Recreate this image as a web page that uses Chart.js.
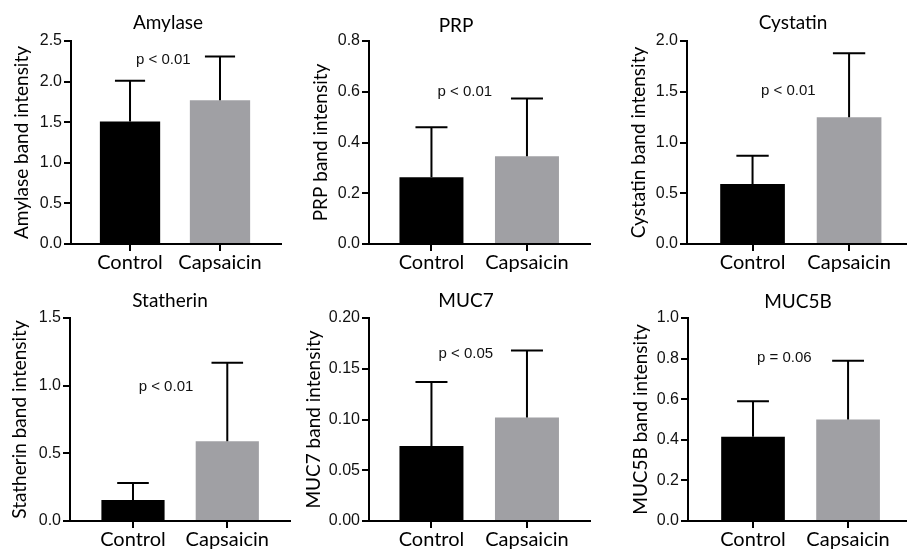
<!DOCTYPE html>
<html>
<head>
<meta charset="utf-8">
<title>Salivary proteins</title>
<script src="https://cdn.jsdelivr.net/npm/chart.js@4.4.1/dist/chart.umd.min.js"></script>
<style>
  body { margin:0; background:#fff; width:907px; height:552px; overflow:hidden; position:relative; }
  .panel { position:absolute; height:276px; }
</style>
</head>
<body>
<div class="panel" style="left:0;top:0;width:300px"><canvas id="amylase"></canvas></div>
<div class="panel" style="left:300px;top:0;width:300px"><canvas id="prp"></canvas></div>
<div class="panel" style="left:600px;top:0;width:307px"><canvas id="cystatin"></canvas></div>
<div class="panel" style="left:0;top:276px;width:300px"><canvas id="statherin"></canvas></div>
<div class="panel" style="left:300px;top:276px;width:300px"><canvas id="muc7"></canvas></div>
<div class="panel" style="left:600px;top:276px;width:307px"><canvas id="muc5b"></canvas></div>
<script>
// ================= DATA =================
const groups = ["Control", "Capsaicin"];

const amylaseMean = [1.51, 1.77];
const amylaseSD   = [0.50, 0.54];
const amylaseTicks = ["0.0", "0.5", "1.0", "1.5", "2.0", "2.5"];

const prpMean = [0.263, 0.346];
const prpSD   = [0.197, 0.227];
const prpTicks = ["0.0", "0.2", "0.4", "0.6", "0.8"];

const cystatinMean = [0.59, 1.25];
const cystatinSD   = [0.28, 0.63];
const cystatinTicks = ["0.0", "0.5", "1.0", "1.5", "2.0"];

const statherinMean = [0.155, 0.59];
const statherinSD   = [0.125, 0.58];
const statherinTicks = ["0.0", "0.5", "1.0", "1.5"];

const muc7Mean = [0.074, 0.102];
const muc7SD   = [0.063, 0.066];
const muc7Ticks = ["0.00", "0.05", "0.10", "0.15", "0.20"];

const muc5bMean = [0.415, 0.50];
const muc5bSD   = [0.175, 0.29];
const muc5bTicks = ["0.0", "0.2", "0.4", "0.6", "0.8", "1.0"];

const pLabels = ["p < 0.01", "p < 0.01", "p < 0.01", "p < 0.01", "p < 0.05", "p = 0.06"];

// ================= LAYOUT =================
const panels = [
  { id:"amylase",   name:"Amylase",   mean:amylaseMean,   sd:amylaseSD,   ticks:amylaseTicks,
    yW:71, padR:19, padT:41, xH:32, xMin:-0.656, xMax:1.678, tX:168, tY:23, yT:21, pX:0.37, pY:2.27 },
  { id:"prp",       name:"PRP",       mean:prpMean,       sd:prpSD,       ticks:prpTicks,
    yW:69, padR:10, padT:41, xH:32, xMin:-0.654, xMax:1.66,  tX:156, tY:26, yT:20, pX:0.35, pY:0.60 },
  { id:"cystatin",  name:"Cystatin",  mean:cystatinMean,  sd:cystatinSD,  ticks:cystatinTicks,
    yW:87, padR:0,  padT:41, xH:32, xMin:-0.679, xMax:1.60,  tX:193, tY:23, yT:38, pX:0.37, pY:1.51 },
  { id:"statherin", name:"Statherin", mean:statherinMean, sd:statherinSD, ticks:statherinTicks,
    yW:70, padR:10, padT:42, xH:31, xMin:-0.668, xMax:1.665, tX:170, tY:25, yT:19, pX:0.35, pY:0.99 },
  { id:"muc7",      name:"MUC7",      mean:muc7Mean,      sd:muc7SD,      ticks:muc7Ticks,
    yW:69, padR:10, padT:42, xH:31, xMin:-0.654, xMax:1.66,  tX:166, tY:25, yT:13, pX:0.36, pY:0.165 },
  { id:"muc5b",     name:"MUC5B",     mean:muc5bMean,     sd:muc5bSD,     ticks:muc5bTicks,
    yW:88, padR:0,  padT:42, xH:31, xMin:-0.684, xMax:1.62,  tX:198, tY:26, yT:40, pX:0.33, pY:0.805 }
];

const barColors = ["#000000", "#a0a0a4"];
const humanist = "Lato, 'Open Sans', sans-serif";
const arial = "'Liberation Sans', Arial, sans-serif";

// ================= PLUGINS =================
const errorBars = {
  id: "errorBars",
  afterDatasetsDraw(chart, args, opts){
    const {ctx, scales:{x, y}} = chart;
    const meta = chart.getDatasetMeta(0);
    ctx.save();
    ctx.strokeStyle = "#000";
    ctx.lineWidth = 2;
    opts.mean.forEach((m, i) => {
      const px = x.getPixelForValue(i);
      const half = meta.data[i].width / 4;
      const y0 = y.getPixelForValue(m);
      const y1 = y.getPixelForValue(m + opts.sd[i]);
      ctx.beginPath();
      ctx.moveTo(px, y0);
      ctx.lineTo(px, y1);
      ctx.moveTo(px - half, y1);
      ctx.lineTo(px + half, y1);
      ctx.stroke();
    });
    ctx.restore();
  }
};

const labels = {
  id: "labels",
  afterDraw(chart, args, opts){
    const {ctx, scales:{x, y}} = chart;
    ctx.save();
    ctx.fillStyle = "#000";
    ctx.textAlign = "center";
    ctx.textBaseline = "middle";
    ctx.font = "19px " + humanist;
    ctx.fillText(opts.title, opts.tX, opts.tY);
    ctx.font = "15px " + arial;
    ctx.fillStyle = "#111";
    ctx.fillText(opts.p, x.getPixelForValue(opts.pX), y.getPixelForValue(opts.pY));
    ctx.restore();
  }
};

// ================= CHARTS =================
function drawPanel(p, idx){

  const maxY = parseFloat(p.ticks[p.ticks.length - 1]);

  new Chart(document.getElementById(p.id), {
    type: "bar",
    data: {
      datasets: [{
        data: p.mean.map((v, i) => ({ x: i, y: v })),
        backgroundColor: barColors,
        borderWidth: 0,
        barPercentage: 0.67,
        categoryPercentage: 1
      }]
    },
    options: {
      responsive: true,
      maintainAspectRatio: false,
      animation: false,
      devicePixelRatio: 1,
      layout: { padding: { top: p.padT, right: p.padR, bottom: 0, left: 0 } },
      plugins: {
        legend: { display: false },
        tooltip: { enabled: false },
        errorBars: { mean: p.mean, sd: p.sd },
        labels: { title: p.name, p: pLabels[idx], tX: p.tX, tY: p.tY, pX: p.pX, pY: p.pY }
      },
      scales: {
        x: {
          type: "linear",
          min: p.xMin,
          max: p.xMax,
          offset: false,
          afterBuildTicks: s => { s.ticks = groups.map((g, i) => ({ value: i })); },
          afterFit: s => { s.height = p.xH; },
          ticks: {
            callback: (v) => groups[v],
            color: "#000",
            font: { family: humanist, size: 20 },
            padding: 0,
            maxRotation: 0
          },
          grid: { display: true, offset: false, drawOnChartArea: false, drawTicks: true, tickLength: 7, color: "#000", lineWidth: 2 },
          border: { display: true, color: "#000", width: 2 }
        },
        y: {
          min: 0,
          max: maxY,
          afterBuildTicks: s => { s.ticks = p.ticks.map(t => ({ value: parseFloat(t) })); },
          afterFit: s => { s.width = p.yW; },
          ticks: {
            callback: (v, i) => p.ticks[i],
            color: "#111",
            font: { family: arial, size: 16 },
            padding: 2
          },
          title: {
            display: true,
            text: p.name + " band intensity",
            color: "#000",
            font: { family: humanist, size: 19 },
            padding: { top: p.yT - 11, bottom: 0 }
          },
          grid: { display: true, drawOnChartArea: false, drawTicks: true, tickLength: 7, color: "#000", lineWidth: 2 },
          border: { display: true, color: "#000", width: 2 }
        }
      }
    },
    plugins: [errorBars, labels]
  });

}

window.onload = () => {
  panels.forEach(drawPanel);
};
</script>
</body>
</html>
